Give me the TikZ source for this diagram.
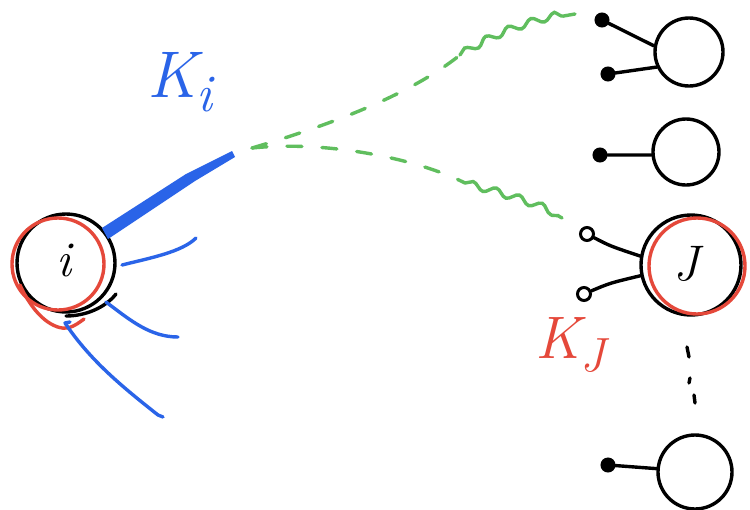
\documentclass[tikz,border=0pt]{standalone}
\usetikzlibrary{decorations.pathmorphing}
\definecolor{penblue}{RGB}{42,100,232}
\definecolor{penred}{RGB}{229,72,58}
\definecolor{pengreen}{RGB}{96,190,94}
\tikzset{
  ball/.style={circle,draw=black,line width=3.4pt,inner sep=0pt,minimum size=#1},
  dot/.style={circle,fill=black,draw=black,line width=1pt,inner sep=0pt,minimum size=14pt},
  opendot/.style={circle,draw=black,line width=3pt,inner sep=0pt,minimum size=13pt},
  stroke/.style={line width=3.4pt,line cap=round,line join=round},
  bluestroke/.style={stroke,draw=penblue},
  redstroke/.style={stroke,draw=penred},
  greendash/.style={line width=3.4pt,draw=pengreen,line cap=round,dash pattern=on 15pt off 20pt},
  wiggle/.style={line width=3.4pt,draw=pengreen,line cap=round,decorate,
    decoration={snake,amplitude=3.5pt,segment length=24pt,post length=4pt}},
  hand/.style={font=\fontsize{#1}{#1}\selectfont\itshape},
}
\newcommand{\lowered}[1]{\raisebox{-0.22em}{\fontsize{0.8em}{0.8em}\selectfont #1}}
\begin{document}
\begin{tikzpicture}[x=1pt,y=-1pt]
  \useasboundingbox[fill=white] (0,0) rectangle (750,509);
  % node i
  \node[ball=98pt] (ni) at (66,263) {};
  \node[hand=50] at (64,260) {i};
  \draw[redstroke] (58,264) circle [radius=46];
  \draw[redstroke] (20,285) .. controls (35,318) and (55,330) .. (68,328)
    .. controls (75,326) and (80,322) .. (84,319);
  \draw[stroke] (66,316) .. controls (85,316) and (105,308) .. (116,294);
  % blue strokes leaving i
  \coordinate (tip) at (233,155);
  \coordinate (b1) at (196,238);
  \coordinate (b2) at (178,337);
  \coordinate (b3) at (163,417);
  \fill[penblue] (102,228) -- (186,174) -- (232,151) -- (235,157) -- (195,181) -- (108,239) -- cycle;
  \draw[bluestroke] (122,265) .. controls (150,258) and (182,252) .. (b1);
  \draw[bluestroke] (106,302) .. controls (130,320) and (150,337) .. (b2);
  \draw[bluestroke] (70,322) -- (65,323) .. controls (90,360) and (120,385) .. (158,415) -- (b3);
  \node[hand=66,text=penblue] (ki) at (180,82) {K\lowered{i}};
  % green links
  \coordinate (meet) at (252,148);
  \coordinate (up) at (460,55);
  \coordinate (down) at (465,183);
  \coordinate (g1) at (575,14);
  \coordinate (g2) at (562,218);
  \draw[greendash] (meet) .. controls (330,125) and (410,95) .. (up);
  \draw[wiggle] (up) .. controls (500,30) and (540,20) .. (g1);
  \draw[greendash] (meet) .. controls (330,140) and (420,160) .. (down);
  \draw[wiggle] (down) .. controls (510,195) and (540,205) .. (g2);
  % right column
  \node[ball=68pt] (n1) at (689,52) {};
  \node[dot] (p11) at (602,20) {};
  \node[dot] (p12) at (608,74) {};
  \draw[stroke] (p11) -- (n1.170);
  \draw[stroke] (p12) -- (n1.205);
  \node[ball=66pt] (n2) at (686,152) {};
  \node[dot] (p21) at (600,155) {};
  \draw[stroke] (p21) -- (n2.185);
  \node[ball=100pt] (nj) at (691,265) {};
  \draw[redstroke] (697,266) circle [radius=48];
  \node[hand=50] at (686,264) {J};
  \node[opendot] (pj1) at (587,234) {};
  \node[opendot] (pj2) at (584,294) {};
  \draw[stroke] (pj1) .. controls (610,246) .. (nj.170);
  \draw[stroke] (pj2) .. controls (610,283) .. (nj.192);
  \node[hand=60,text=penred] (kj) at (570,345) {K\lowered{J}};
  \draw[stroke] (687,347) -- (689,357);
  \draw[stroke] (690,378) -- (689,383);
  \draw[stroke] (694,395) -- (695,403);
  \node[ball=74pt] (nn) at (695,472) {};
  \node[dot] (pn) at (608,465) {};
  \draw[stroke] (pn) -- (nn.175);
\end{tikzpicture}
\end{document}
